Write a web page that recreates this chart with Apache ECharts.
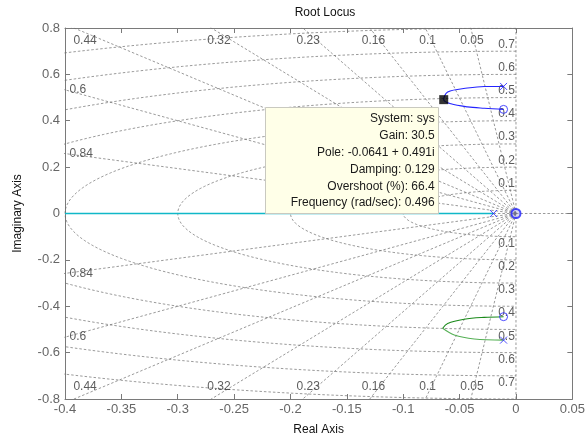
<!DOCTYPE html>
<html>
<head>
<meta charset="utf-8">
<script src="https://cdn.jsdelivr.net/npm/echarts@6/dist/echarts.min.js"></script>
<style>
html,body{margin:0;padding:0;background:#fff;}
#chart{width:588px;height:441px;}
</style>
</head>
<body>
<div id="chart"></div>
<script>
// ---- data ----
const zetaValues = [0.05, 0.1, 0.16, 0.23, 0.32, 0.44, 0.6, 0.84];
const wnValues = [0.1, 0.2, 0.3, 0.4, 0.5, 0.6, 0.7, 0.8];
const wnLabelValues = [0.1, 0.2, 0.3, 0.4, 0.5, 0.6, 0.7];

const realBranch = [[-0.4, 0], [-0.3, 0], [-0.2, 0], [-0.1, 0], [-0.02, 0]];
const upperBranch = [[-0.011, 0.548], [-0.028, 0.548], [-0.043, 0.541], [-0.0606, 0.524], [-0.0641, 0.491], [-0.0577, 0.473], [-0.043, 0.460], [-0.028, 0.454], [-0.011, 0.449]];
const lowerBranchA = [[-0.011, -0.546], [-0.037, -0.541], [-0.0547, -0.524], [-0.065, -0.495]];
const lowerBranchB = [[-0.065, -0.495], [-0.0606, -0.474], [-0.0459, -0.456], [-0.0283, -0.448], [-0.011, -0.445]];
const poles = [[-0.02, 0], [-0.011, 0.548], [-0.011, -0.546]];
const zeros = [[-0.011, 0.449], [-0.011, -0.445]];
const originZero = [[0, 0]];
const selectedPole = [-0.0641, 0.491];
const datatipLines = ['System: sys', 'Gain: 30.5', 'Pole: -0.0641 + 0.491i', 'Damping: 0.129', 'Overshoot (%): 66.4', 'Frequency (rad/sec): 0.496'];

const X_MIN = -0.4, X_MAX = 0.05, Y_MIN = -0.8, Y_MAX = 0.8;
const FONT = "'Liberation Sans', Arial, Helvetica, sans-serif";

// ---- grid geometry (sgrid) ----
const gridStyle = {color: '#6f6f6f', width: 0.7, type: [2.5, 2]};
const series = [];
function gridLine(pts) {
  series.push({type: 'line', data: pts, showSymbol: false, symbol: 'none', silent: true,
    clip: true, lineStyle: gridStyle, z: 1, animation: false});
}
zetaValues.forEach(z => {
  const s = Math.sqrt(1 - z * z);
  gridLine([[0, 0], [-z * 3, s * 3]]);
  gridLine([[0, 0], [-z * 3, -s * 3]]);
});
gridLine([[0, Y_MIN], [0, Y_MAX]]);
gridLine([[-0.02, 0], [X_MAX, 0]]);
wnValues.forEach(w => {
  const pts = [];
  for (let i = 0; i <= 180; i++) {
    const t = Math.PI / 2 + Math.PI * i / 180;
    pts.push([w * Math.cos(t), w * Math.sin(t)]);
  }
  gridLine(pts);
});

// ---- grid labels ----
const labelFont = {fontFamily: FONT, fontSize: 12, color: '#333'};
function labelSeries(data, align, vAlign) {
  series.push({type: 'scatter', data: data, symbol: 'circle', symbolSize: 0, silent: true, z: 3,
    itemStyle: {color: 'transparent'},
    label: Object.assign({show: true, position: [0, 0], align: align, verticalAlign: vAlign,
      formatter: p => p.name}, labelFont)});
}
const topLbl = [], botLbl = [], leftTop = [], leftBot = [];
zetaValues.forEach(z => {
  const s = Math.sqrt(1 - z * z);
  const xTop = -z / s * Y_MAX;
  if (xTop >= X_MIN) {
    const xl = -z / s * 0.78;
    topLbl.push({name: String(z), value: [xl, 0.745]});
    botLbl.push({name: String(z), value: [xl, -0.745]});
  } else {
    const yl = -X_MIN * s / z;
    leftTop.push({name: String(z), value: [-0.396, yl]});
    leftBot.push({name: String(z), value: [-0.396, -yl]});
  }
});
labelSeries(topLbl, 'center', 'middle');
labelSeries(botLbl, 'center', 'middle');
labelSeries(leftTop, 'left', 'middle');
labelSeries(leftBot, 'left', 'middle');
labelSeries(wnLabelValues.map(w => ({name: String(w), value: [-0.001, w + 0.004]})), 'right', 'bottom');
labelSeries(wnLabelValues.map(w => ({name: String(w), value: [-0.001, -w - 0.004]})), 'right', 'top');

// ---- root locus branches ----
function branch(data, color, smooth, width) {
  series.push({type: 'line', data: data, showSymbol: false, symbol: 'none', smooth: smooth, clip: false,
    silent: true, z: 5, lineStyle: {color: color, width: width || 1.1, type: 'solid'}});
}
branch(realBranch, '#10b8c8', false, 1.4);
branch(upperBranch, '#2424ff', 0.35);
branch(lowerBranchA, '#55b055', 0.35);
branch(lowerBranchB, '#1a8a1a', 0.35);

const xPath = 'path://M0,0L10,10M10,0L0,10';
series.push({type: 'scatter', data: poles, symbol: xPath, symbolSize: 7, silent: true, z: 8,
  itemStyle: {color: 'none', borderColor: '#2020ff', borderWidth: 1}});
series.push({type: 'scatter', data: zeros, symbol: 'circle', symbolSize: 8, silent: true, z: 8,
  itemStyle: {color: 'transparent', borderColor: '#2020ff', borderWidth: 1}});
series.push({type: 'scatter', data: originZero, symbol: 'circle', symbolSize: 9, silent: true, z: 8,
  itemStyle: {color: 'rgba(120,120,200,0.35)', borderColor: '#2020ff', borderWidth: 2}});
series.push({type: 'scatter', data: [selectedPole], symbol: 'rect', symbolSize: 9, silent: true, z: 60,
  zlevel: 2, itemStyle: {color: '#000'}});

const axisColor = '#7a7a7a';
const tickLabel = {fontFamily: FONT, fontSize: 13, color: '#666'};
const fmt = v => String(+(+v).toFixed(2));

const chart = echarts.init(document.getElementById('chart'), null, {renderer: 'canvas'});
chart.setOption({
  animation: false,
  backgroundColor: '#fff',
  title: {text: 'Root Locus', left: 320, textAlign: 'center', top: 2,
    textStyle: {fontFamily: FONT, fontSize: 12, fontWeight: 'normal', color: '#111'}},
  grid: {left: 65, right: 12.5, top: 28, bottom: 40, containLabel: false},
  xAxis: [{
    type: 'value', min: X_MIN, max: X_MAX, interval: 0.05, position: 'bottom',
    name: 'Real Axis', nameLocation: 'middle', nameGap: 25,
    nameTextStyle: {fontFamily: FONT, fontSize: 12, color: '#111'},
    axisLine: {onZero: false, lineStyle: {color: axisColor}},
    axisTick: {inside: true, length: 5, lineStyle: {color: axisColor}},
    axisLabel: Object.assign({margin: 4, formatter: fmt}, tickLabel),
    splitLine: {show: false}
  }, {
    type: 'value', min: X_MIN, max: X_MAX, interval: 0.05, position: 'top',
    axisLine: {onZero: false, lineStyle: {color: axisColor}},
    axisTick: {inside: true, length: 5, lineStyle: {color: axisColor}},
    axisLabel: {show: false}, splitLine: {show: false}
  }],
  yAxis: [{
    type: 'value', min: Y_MIN, max: Y_MAX, interval: 0.2, position: 'left',
    name: 'Imaginary Axis', nameLocation: 'middle', nameGap: 41,
    nameTextStyle: {fontFamily: FONT, fontSize: 12, color: '#111'},
    axisLine: {onZero: false, lineStyle: {color: axisColor}},
    axisTick: {inside: true, length: 5, lineStyle: {color: axisColor}},
    axisLabel: Object.assign({margin: 5, formatter: fmt}, tickLabel),
    splitLine: {show: false}
  }, {
    type: 'value', min: Y_MIN, max: Y_MAX, interval: 0.2, position: 'right',
    axisLine: {onZero: false, lineStyle: {color: axisColor}},
    axisTick: {inside: true, length: 5, lineStyle: {color: axisColor}},
    axisLabel: {show: false}, splitLine: {show: false}
  }],
  series: series
});

// ---- datatip anchored at the selected pole ----
const p = chart.convertToPixel({gridIndex: 0}, selectedPole);
chart.setOption({
  graphic: [{
    type: 'rect', zlevel: 1, z: 100,
    shape: {x: Math.round(p[0]) - 178.5, y: Math.round(p[1]) + 7.5, width: 173, height: 106},
    style: {fill: '#ffffe8', stroke: '#c9c9c0', lineWidth: 1}
  }, {
    type: 'text', zlevel: 1, z: 101,
    style: {text: datatipLines.join('\n'), x: p[0] - 9, y: p[1] + 11, align: 'right', verticalAlign: 'top',
      font: '12px ' + FONT, fill: '#1a1a1a', lineHeight: 16.8}
  }]
});
</script>
</body>
</html>
